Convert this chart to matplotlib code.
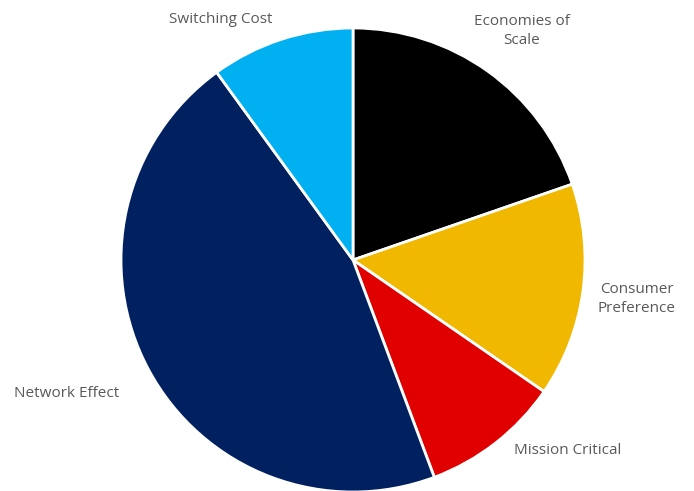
import numpy as np
import matplotlib.pyplot as plt

# Share of each competitive advantage (%)
labels = ['Economies of\nScale', 'Consumer\nPreference', 'Mission Critical',
          'Network Effect', 'Switching Cost']
shares = [19.7, 14.9, 9.7, 45.7, 10.0]
colors = ['#000000', '#F0B800', '#E00000', '#002060', '#00B0F0']

# label placement: (angle in degrees, distance in radii)
label_pos = [(53.6, 1.225), (-7.8, 1.235), (-41.7, 1.237), (205.0, 1.362), (118.8, 1.185)]

plt.rcParams['font.family'] = ['Open Sans', 'DejaVu Sans']

fig = plt.figure(figsize=(6.94, 4.91), dpi=100)
W, H = 694, 491
cx, cy, r = 353, 260, 232
ax = fig.add_axes([(cx - r) / W, (H - cy - r) / H, 2 * r / W, 2 * r / H])

wedges, texts = ax.pie(shares, labels=labels, colors=colors, startangle=90,
                       counterclock=False,
                       wedgeprops=dict(edgecolor='white', linewidth=2),
                       textprops=dict(fontsize=11, color='#595959'))

for t, (ang, dist) in zip(texts, label_pos):
    a = np.deg2rad(ang)
    t.set_position((dist * np.cos(a), dist * np.sin(a)))
    t.set_horizontalalignment('center')
    t.set_verticalalignment('center')
    t.set_multialignment('center')
    t.set_linespacing(1.35)

ax.set_xlim(-1, 1)
ax.set_ylim(-1, 1)
ax.set_aspect('equal')
ax.axis('off')

fig.savefig('out.png', dpi=100, facecolor='white')
